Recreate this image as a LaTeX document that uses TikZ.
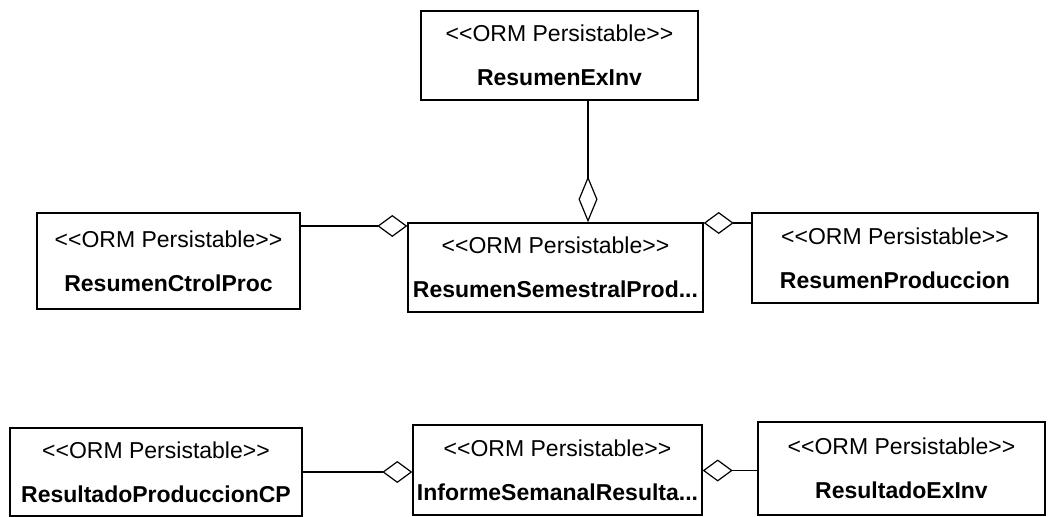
\documentclass[tikz,border=0pt]{standalone}
\usepackage{fontspec}
\setmainfont{Liberation Sans}
\usetikzlibrary{arrows.meta}
\newcommand{\ormst}{<{}<ORM Persistable>{}>}
\begin{document}
\begin{tikzpicture}[x=0.5pt,y=-0.5pt,
    cls/.style={draw,line width=0.7pt,align=center,inner sep=0pt,font=\fontsize{11.5}{22}\selectfont},
    agg/.style={line width=0.6pt,-{Diamond[open,length=15pt,width=11pt,line width=0.6pt]}}]
            \useasboundingbox (0,0) rectangle (1048,517);
            \node[cls,minimum width=138.5pt,minimum height=44.5pt] (exinv) at (559.5,55.5) {\ormst\\\textbf{ResumenExInv}};
            \node[cls,minimum width=147.5pt,minimum height=44.5pt] (semestral) at (555.5,267.5) {\ormst\\\textbf{ResumenSemestralProd...}};
            \node[cls,minimum width=131.5pt,minimum height=48pt] (ctrl) at (168.5,261) {\ormst\\\textbf{ResumenCtrolProc}};
            \node[cls,minimum width=143pt,minimum height=45pt] (produccion) at (895,258) {\ormst\\\textbf{ResumenProduccion}};
            
            \node[cls,minimum width=146pt,minimum height=44pt] (resprodcp) at (156,472) {\ormst\\\textbf{ResultadoProduccionCP}};
            \node[cls,minimum width=144.5pt,minimum height=45pt] (informe) at (557.5,470) {\ormst\\\textbf{InformeSemanalResulta...}};
            \node[cls,minimum width=143.5pt,minimum height=46.5pt] (resexinv) at (901.5,468.5) {\ormst\\\textbf{ResultadoExInv}};
            
            \draw[agg,-{Diamond[open,length=23pt,width=9.5pt,line width=0.6pt]}] ([xshift=14.25pt]exinv.south) -- ([xshift=14.25pt]exinv.south |- semestral.north);
            \draw[agg] ([yshift=17.5pt]ctrl.east) -- ([yshift=17.5pt]ctrl.east -| semestral.west);
            \draw[agg] ([yshift=17.5pt]produccion.west) -- ([yshift=17.5pt]produccion.west -| semestral.east);
            \draw[agg] (resprodcp.east) -- (resprodcp.east -| informe.west);
            \draw[agg] ([yshift=-1pt]resexinv.west) -- ([yshift=-1pt]resexinv.west -| informe.east);
\end{tikzpicture}
\end{document}
